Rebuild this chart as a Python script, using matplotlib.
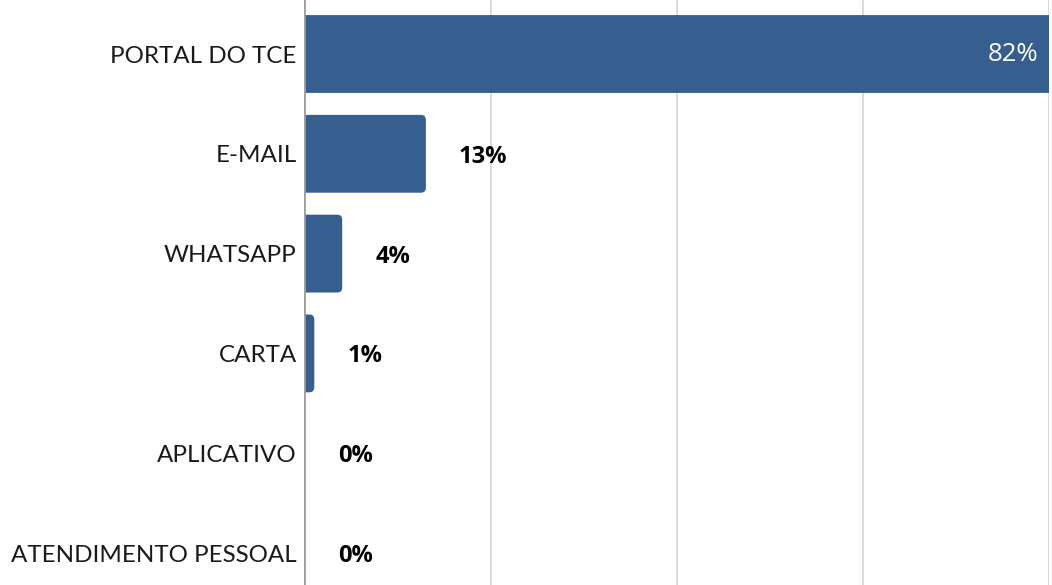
import matplotlib.pyplot as plt
from matplotlib.patches import FancyBboxPatch

categorias = ['PORTAL DO TCE', 'E-MAIL', 'WHATSAPP', 'CARTA', 'APLICATIVO', 'ATENDIMENTO PESSOAL']
valores = [0.82, 0.13, 0.04, 0.01, 0.0, 0.0]
rotulos = ['82%', '13%', '4%', '1%', '0%', '0%']

cor_barra = '#365f8f'

fig = plt.figure(figsize=(10.52, 5.85), dpi=100)
# area do grafico em pixels: x 305..1049
ax = fig.add_axes([305 / 1052, 0, (1049 - 305) / 1052, 1])

pos = list(range(len(categorias)))
barras = ax.barh(pos, valores, height=0.78, color=cor_barra)

# troca as barras por versoes com cantos arredondados
px_x = 0.8 / 744
px_y = 1 / 99.8
r = 5 * px_x
for b in barras:
    w = b.get_width()
    if w <= 0:
        b.remove()
        continue
    y0 = b.get_y()
    h = b.get_height()
    p = FancyBboxPatch((-2 * r, y0), w + 2 * r, h,
                       boxstyle=f'round,pad=0,rounding_size={r}',
                       mutation_aspect=px_y / px_x,
                       facecolor=cor_barra, edgecolor='none', zorder=2)
    ax.add_patch(p)
    b.remove()

ax.set_xlim(0, 0.8)
ax.set_ylim((585 - 54) / 99.8, -54 / 99.8)

ax.set_xticks([0.2, 0.4, 0.6, 0.8])
ax.grid(axis='x', color='#d4d4d4', linewidth=1.2, zorder=0)
ax.set_axisbelow(True)
ax.tick_params(axis='x', length=0, labelbottom=False)
ax.tick_params(axis='y', length=0, pad=6)
ax.set_yticks(pos)
ax.set_yticklabels(categorias, fontsize=17.4, family='Lato', color='#1a1a1a')

for s in ['top', 'right', 'bottom']:
    ax.spines[s].set_visible(False)
ax.spines['left'].set_color('#9a9a9a')
ax.spines['left'].set_linewidth(1.3)
ax.spines['left'].set_zorder(3)

for i, (v, t) in enumerate(zip(valores, rotulos)):
    if v > 0.5:
        ax.text(0.8 - 11 * px_x, i, t, ha='right', va='center', color='white',
                fontsize=18.5, family='Open Sans')
    else:
        ax.text(v + 33 * px_x, i + 3 * px_y, t, ha='left', va='center', color='black',
                fontsize=17, family='Open Sans', fontweight='bold')

fig.savefig('out.png', dpi=100)
